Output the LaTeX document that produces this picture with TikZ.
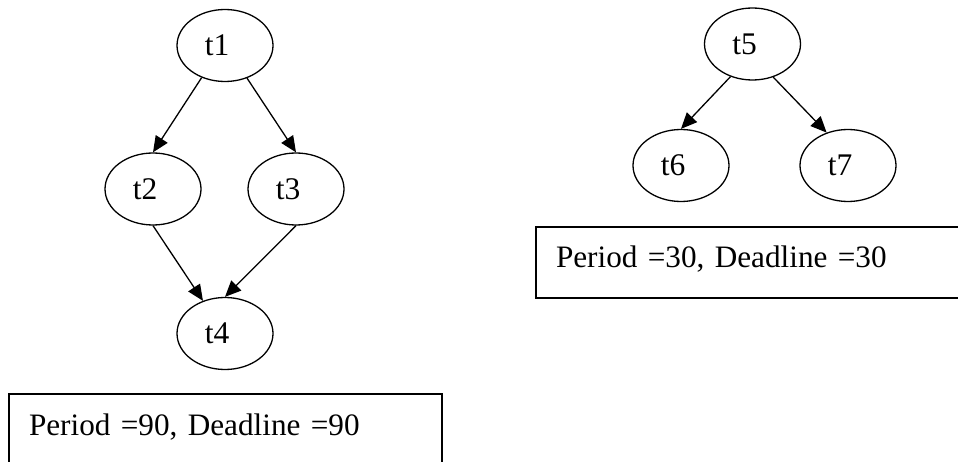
\documentclass[tikz,border=0pt]{standalone}
\usepackage{fontspec}
\setmainfont{Liberation Serif}
\usetikzlibrary{shapes.geometric,arrows.meta}
\begin{document}
\begin{tikzpicture}[x=1pt,y=-1pt,
  task/.style={ellipse,draw,line width=1.3pt,minimum width=96pt,minimum height=72pt,inner sep=0pt,
    font=\fontsize{31.5pt}{38pt}\selectfont},
  infobox/.style={rectangle,draw,line width=2pt,anchor=north west,minimum width=433pt,minimum height=71pt,
    inner xsep=20pt,inner ysep=0pt,text width=393pt,align=left,text height=22pt,text depth=11pt,
    font=\fontsize{31.2pt}{38pt}\selectfont},
  edge/.style={line width=1.3pt,-{Triangle[length=16pt,width=14pt]}}]
\useasboundingbox (0,0) rectangle (958,462);
\clip (0,0) rectangle (958,462);
\fill[white] (0,0) rectangle (958,462);
\node[task] (t1) at (225,45.5) {t1\hspace*{16pt}};
\node[task] (t2) at (153,189) {t2\hspace*{16pt}};
\node[task] (t3) at (296,189) {t3\hspace*{16pt}};
\node[task] (t4) at (225,333.5) {t4\hspace*{16pt}};
\node[task] (t5) at (752.5,44) {t5\hspace*{16pt}};
\node[task] (t6) at (681,165.5) {t6\hspace*{16pt}};
\node[task] (t7) at (848,165.5) {t7\hspace*{16pt}};
\node[infobox] (b1) at (8,393) {Period =90, Deadline =90};
\node[infobox] (b2) at (535,226) {Period =30, Deadline =30};
\draw[edge] (t1.234) -- (t2.north);
\draw[edge] (t1.304) -- (t3.north);
\draw[edge] (t2.south) -- (t4.124);
\draw[edge] (t3.south) -- (t4.north);
\draw[edge] (t5.236) -- (t6.north);
\draw[edge] (t5.302) -- (t7.123);
\end{tikzpicture}
\end{document}
